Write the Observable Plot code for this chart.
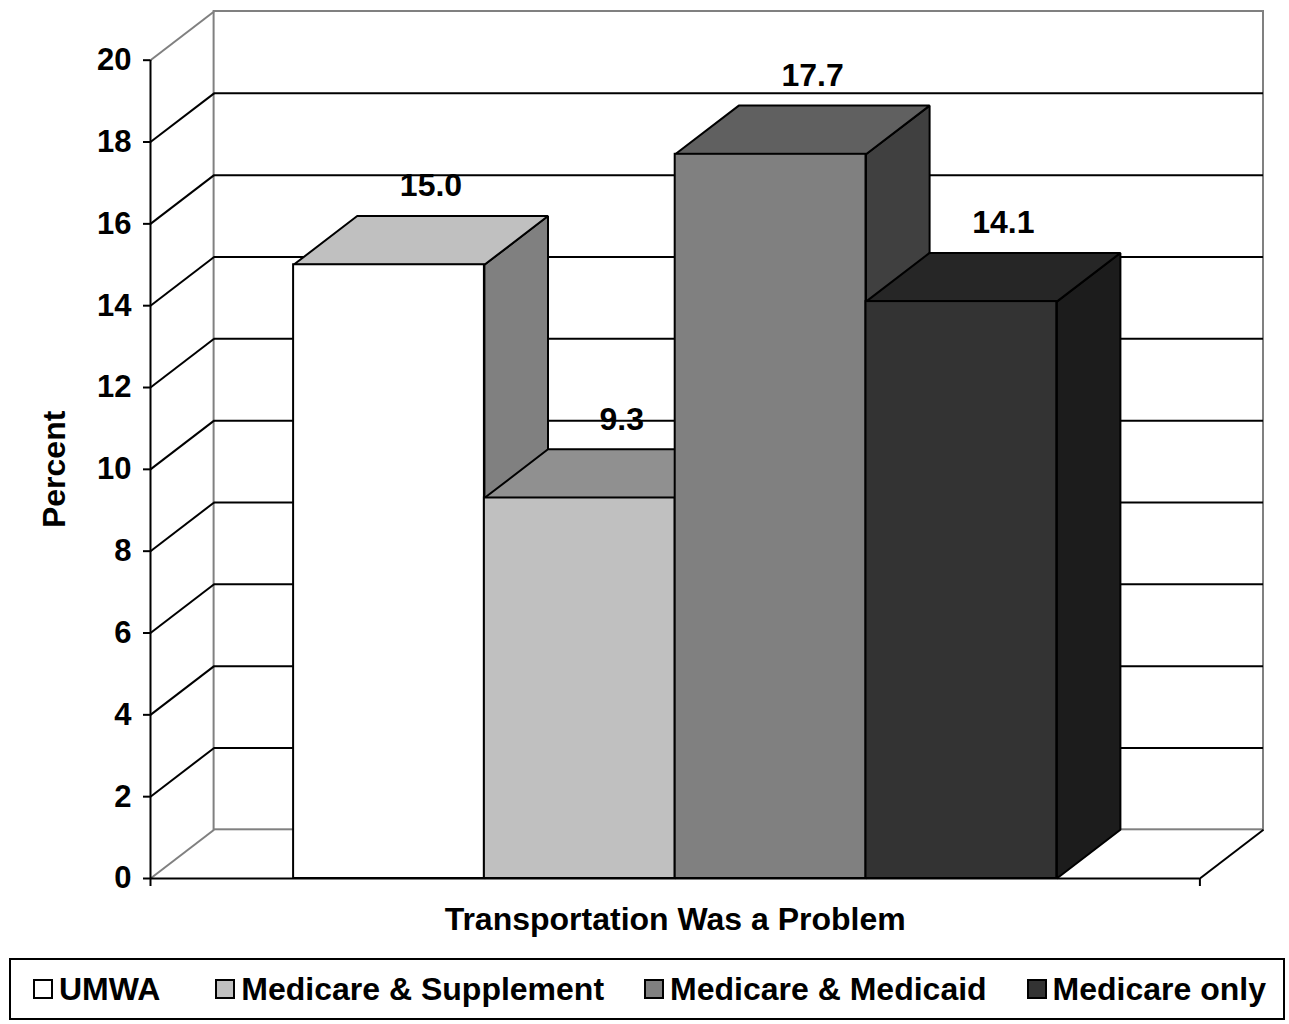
<!DOCTYPE html>
<html>
<head>
<meta charset="utf-8">
<script src="https://cdn.jsdelivr.net/npm/d3@7"></script>
<script src="https://cdn.jsdelivr.net/npm/@observablehq/plot@0.6"></script>
<style>
  html, body { margin: 0; padding: 0; background: #fff; }
  body { font-family: "Liberation Sans", Arial, sans-serif; font-weight: bold; }
  #legend {
    box-sizing: border-box;
    margin-left: 9px;
    width: 1276px;
    height: 62px;
    border: 2px solid #000;
    display: flex;
    align-items: center;
    padding-left: 22px;
    font-size: 32px;
    color: #000;
  }
  .item { display: flex; align-items: center; margin-right: 40px; white-space: nowrap; }
  .item:first-child { margin-right: 55px; }
  .sw { width: 16px; height: 16px; border: 2px solid #000; margin-right: 6px; }
</style>
</head>
<body>
<div id="chart"></div>
<div id="legend"></div>
<script>
// ---- data ----
const categories = ["UMWA", "Medicare & Supplement", "Medicare & Medicaid", "Medicare only"];
const values = [15.0, 9.3, 17.7, 14.1];
const yTicks = [0, 2, 4, 6, 8, 10, 12, 14, 16, 18, 20];
const xTitle = "Transportation Was a Problem";
const yTitle = "Percent";

// ---- palette ----
const frontColors = ["#ffffff", "#c0c0c0", "#808080", "#333333"];
const topColors = ["#c0c0c0", "#909090", "#606060", "#262626"];
const sideColors = ["#808080", "#606060", "#404040", "#1c1c1c"];

// ---- layout (in scale units) ----
const GAP = 0.75;             // space before first bar (bar widths)
const FLOOR = categories.length + 2 * GAP; // front floor length
const DX = 1 / 3;             // depth offset along x
const DY = 1.19;              // depth offset along y (percent units)
const YMAX = yTicks[yTicks.length - 1];

const bars = categories.map((c, i) => ({c, i, v: values[i], x1: GAP + i, x2: GAP + i + 1}));

function sidePoly(b) {
  return [
    {x: b.x2, y: 0}, {x: b.x2, y: b.v}, {x: b.x2 + DX, y: b.v + DY}, {x: b.x2 + DX, y: DY}
  ];
}
function topPoly(b) {
  return [
    {x: b.x1, y: b.v}, {x: b.x2, y: b.v}, {x: b.x2 + DX, y: b.v + DY}, {x: b.x1 + DX, y: b.v + DY}
  ];
}

const innerTicks = yTicks.filter(t => t > 0 && t < YMAX);
const GRAY = "#808080";

const marks = [
  // back wall border
  Plot.rect([0], {x1: () => DX, x2: () => FLOOR + DX, y1: () => DY, y2: () => YMAX + DY,
    fill: "none", stroke: GRAY, strokeWidth: 2}),
  // back wall gridlines
  Plot.ruleY(innerTicks, {y: t => t + DY, x1: () => DX, x2: () => FLOOR + DX, stroke: "#000", strokeWidth: 2}),
  // left wall diagonals
  Plot.link(innerTicks, {x1: () => 0, y1: t => t, x2: () => DX, y2: t => t + DY, stroke: "#000", strokeWidth: 2}),
  Plot.link([0, YMAX], {x1: () => 0, y1: t => t, x2: () => DX, y2: t => t + DY, stroke: GRAY, strokeWidth: 2}),
  // floor right diagonal
  Plot.link([FLOOR], {x1: d => d, y1: () => 0, x2: d => d + DX, y2: () => DY, stroke: "#000", strokeWidth: 2}),
  // sides
  ...bars.map(b => Plot.line(sidePoly(b), {x: "x", y: "y", curve: "linear-closed",
    fill: sideColors[b.i], stroke: "#000", strokeWidth: 2, strokeLinejoin: "miter"})),
  // tops
  ...bars.map(b => Plot.line(topPoly(b), {x: "x", y: "y", curve: "linear-closed",
    fill: topColors[b.i], stroke: "#000", strokeWidth: 2, strokeLinejoin: "miter"})),
  // fronts
  Plot.rect(bars, {x1: "x1", x2: "x2", y1: () => 0, y2: "v",
    fill: b => frontColors[b.i], stroke: "#000", strokeWidth: 2}),
  // front y axis line and floor front edge
  Plot.ruleX([0], {y1: () => 0, y2: () => YMAX, stroke: "#000", strokeWidth: 2}),
  Plot.ruleY([0], {x1: () => 0, x2: () => FLOOR, stroke: "#000", strokeWidth: 2}),
  // y axis
  Plot.axisY(yTicks, {tickSize: 7, tickPadding: 12, tickFormat: d => String(d), fontSize: 31,
    fontWeight: "bold", label: null, strokeWidth: 2}),
  // x axis end ticks
  Plot.axisX([0, FLOOR], {tickSize: 8, tickFormat: () => "", label: null, strokeWidth: 2}),
  // value labels
  Plot.text(bars, {x: b => b.x1 + 0.5 + 0.22, y: b => b.v + DY, text: b => b.v.toFixed(1),
    dy: -30, fontSize: 32, fontWeight: "bold", fill: "#000"}),
  // axis titles
  Plot.text([xTitle], {x: () => FLOOR / 2, y: () => 0, text: d => d, dy: 41,
    fontSize: 32, fontWeight: "bold", fill: "#000"}),
  Plot.text([yTitle], {x: () => 0, y: () => YMAX / 2, text: d => d, dx: -96, rotate: -90,
    fontSize: 32, fontWeight: "bold", fill: "#000"})
];

const chart = Plot.plot({
  width: 1289,
  height: 958,
  marginLeft: 150,
  marginRight: 26,
  marginTop: 11,
  marginBottom: 80,
  x: {domain: [0, FLOOR + DX], axis: null},
  y: {domain: [0, YMAX + DY], axis: null},
  style: {fontFamily: "'Liberation Sans', Arial, sans-serif", fontWeight: "bold", background: "#fff", color: "#000", overflow: "visible"},
  marks
});
document.getElementById("chart").appendChild(chart);

// legend
const legend = document.getElementById("legend");
categories.forEach((c, i) => {
  const item = document.createElement("div");
  item.className = "item";
  const sw = document.createElement("div");
  sw.className = "sw";
  sw.style.background = frontColors[i];
  const label = document.createElement("span");
  label.textContent = c;
  item.appendChild(sw);
  item.appendChild(label);
  legend.appendChild(item);
});
</script>
</body>
</html>
